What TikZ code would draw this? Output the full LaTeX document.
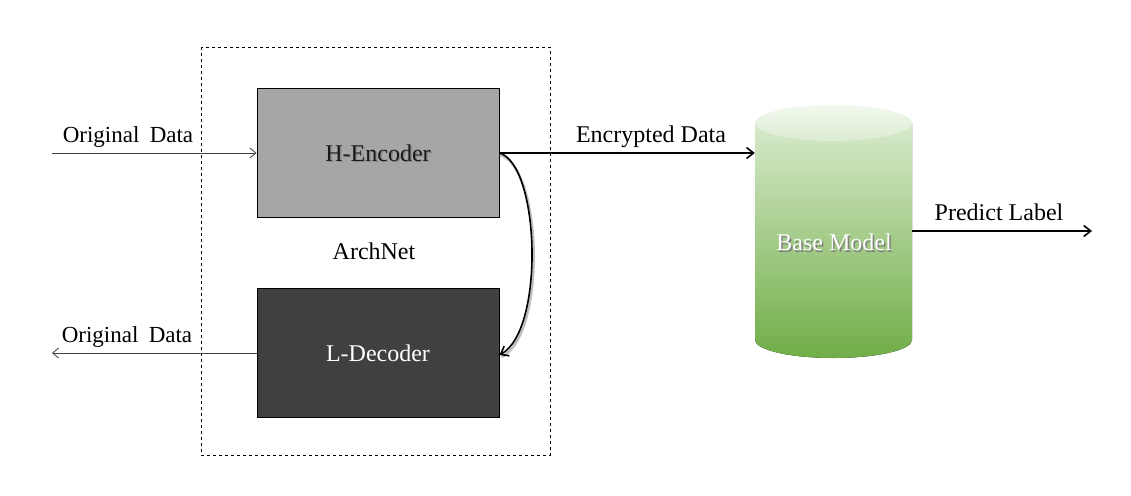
\documentclass[tikz,border=0pt]{standalone}
\usepackage{fontspec}
\setmainfont{Liberation Serif}
\usetikzlibrary{arrows.meta}
\definecolor{encfill}{HTML}{A6A6A6}
\definecolor{decfill}{HTML}{404040}
\definecolor{cyltop}{HTML}{F2F8EE}
\definecolor{cylmid}{HTML}{C5E0B4}
\definecolor{cylbot}{HTML}{70AD47}
\tikzset{
  lbl/.style={font=\fontsize{23}{27}\selectfont, inner sep=0pt, anchor=base},
  biglbl/.style={font=\fontsize{24}{28}\selectfont, inner sep=0pt, anchor=base},
  blockbox/.style={draw=black, line width=1pt, minimum width=242pt, minimum height=129pt, inner sep=0pt},
  thinarrow/.style={draw=black!75, line width=0.8pt, -{Straight Barb[length=6pt,width=10pt]}},
  thickarrow/.style={draw=black, line width=1.6pt, -{Straight Barb[length=7pt,width=11pt]}},
}
\begin{document}
\begin{tikzpicture}[x=1pt,y=-1pt]
\useasboundingbox (0,0) rectangle (1131,495);
% dashed frame
\draw[dashed, line width=0.8pt] (201,47) rectangle (550,455);
% blocks
\node[blockbox, fill=encfill] (enc) at (378,152.5) {};
\node[font=\fontsize{24}{28}\selectfont, text=black!45, inner sep=0pt] at (379.5,154.5) {H-Encoder};
\node[font=\fontsize{24}{28}\selectfont, text=black!90, inner sep=0pt] (enctxt) at (378,153) {H-Encoder};
\node[blockbox, fill=decfill] (dec) at (378,352.5) {};
\node[font=\fontsize{24}{28}\selectfont, text=white, inner sep=0pt] (dectxt) at (378,353) {L-Decoder};
\node[biglbl] (arch) at (374,259) {ArchNet};
% input / output
\coordinate (inL) at (52,153);
\coordinate (outL) at (52,353);
\draw[thinarrow] (inL) -- (enc.west |- inL);
\node[lbl] (origin) at (128,142) {Original\hspace{0.45em}Data};
\draw[thinarrow] (dec.west |- outL) -- (outL);
\node[lbl] (origout) at (127,342) {Original\hspace{0.45em}Data};
% cylinder
\fill[top color=cylmid!60!cyltop, bottom color=cylbot]
  (755,123) -- (755,340) arc[start angle=180, end angle=0, x radius=78.5, y radius=18] -- (912,123) -- cycle;
\shade[top color=cyltop, bottom color=cylmid!50!cyltop] (833.5,123) ellipse[x radius=78.5, y radius=18];
\node[inner sep=0pt, minimum width=157pt, minimum height=253pt] (cyl) at (833.5,231.5) {};
\node[font=\fontsize{24}{28}\selectfont, text=black!50, inner sep=0pt] at (835.5,244) {Base Model};
\node[font=\fontsize{24}{28}\selectfont, text=white, inner sep=0pt] (cyltxt) at (834,242) {Base Model};
% encrypted data
\draw[thickarrow] (enc.east |- inL) -- (cyl.west |- inL);
\node[biglbl] (encl) at (651,142) {Encrypted Data};
% predict label
\coordinate (predR) at (1092,231);
\draw[thickarrow] (cyl.east |- predR) -- (predR);
\node[biglbl] (predl) at (999,220) {Predict Label};
% curved arrow with shadow
\draw[black!25, line width=2.5pt] (500,155) .. controls (542,167) and (547,332) .. (502,357);
\draw[thickarrow] (enc.east |- inL) .. controls (540,165) and (545,330) .. (dec.east |- 0,355);
\end{tikzpicture}
\end{document}
